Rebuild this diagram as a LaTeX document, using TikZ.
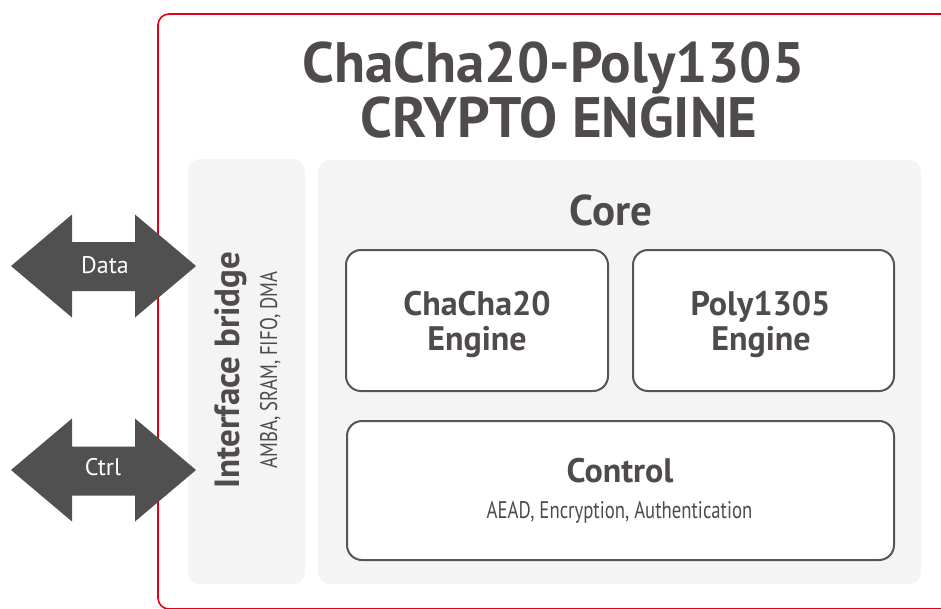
\documentclass[tikz,border=0pt]{standalone}
\usepackage{fontspec}
\setmainfont{PT Sans}
\newfontfamily\condfont[FakeStretch=0.78]{PT Sans}
\definecolor{txt}{HTML}{4E4B4A}
\definecolor{boxgray}{HTML}{F4F4F4}
\definecolor{edge}{HTML}{555555}
\definecolor{arrowfill}{HTML}{505050}
\definecolor{frame}{HTML}{E2001A}
\begin{document}
\begin{tikzpicture}[x=1pt,y=-1pt,
  panel/.style={fill=boxgray, rounded corners=12pt, inner sep=0pt},
  engine/.style={draw=edge, line width=2pt, fill=white, rounded corners=15pt, inner sep=0pt},
  lbl/.style={text=txt, inner sep=0pt, anchor=base},
  enginetxt/.style={lbl, font=\fontsize{34}{36}\bfseries\selectfont},
  arrowtxt/.style={text=white, inner sep=0pt, anchor=base, font=\fontsize{24}{28}\selectfont},
  bigarrow/.style={fill=arrowfill}]
\useasboundingbox (0,0) rectangle (941,608);
% outer frame
\draw[frame, line width=1.6pt, rounded corners=11pt] (158,14) rectangle (990,609);
% title
\node[lbl, font=\fontsize{57}{60}\bfseries\selectfont] (title1) at (553.5,82) {ChaCha20-Poly1305};
\node[lbl, font=\fontsize{57}{60}\bfseries\selectfont] (title2) at (559,137) {CRYPTO ENGINE};
% panels
\node[panel, minimum width=117pt, minimum height=425pt] (bridge) at (246.5,371.5) {};
\node[panel, minimum width=603pt, minimum height=424pt] (core) at (619.5,372) {};
% bridge labels
\node[lbl, rotate=90, font=\fontsize{35}{37}\bfseries\selectfont] (bridgetitle) at (239,370) {Interface bridge};
\node[lbl, rotate=90, font=\fontsize{24}{26}\condfont\selectfont] (bridgesub) at (277,370) {AMBA, SRAM, FIFO, DMA};
% core
\node[lbl, font=\fontsize{43}{46}\bfseries\selectfont] (coretitle) at (611,225) {Core};
\node[engine, minimum width=262pt, minimum height=141pt] (chacha) at (477,320.5) {};
\node[engine, minimum width=261pt, minimum height=141pt] (poly) at (763.5,320.5) {};
\node[engine, minimum width=547pt, minimum height=139pt] (control) at (620.5,490.5) {};
\node[enginetxt] (chacha1) at (477,315) {ChaCha20};
\node[enginetxt] (chacha2) at (477,350) {Engine};
\node[enginetxt] (poly1) at (760.5,315) {Poly1305};
\node[enginetxt] (poly2) at (761,350) {Engine};
\node[enginetxt] (ctrl1) at (620,482) {Control};
\node[lbl, font=\fontsize{24}{28}\condfont\selectfont] (ctrl2) at (619.5,518) {AEAD, Encryption, Authentication};
% external arrows
\fill[bigarrow] (11,266) -- (72,214.5) -- (72,242) -- (135,242) -- (135,214.5) -- (196,266)
  -- (135,317.5) -- (135,291) -- (72,291) -- (72,317.5) -- cycle;
\node[arrowtxt] (data) at (105,273) {Data};
\fill[bigarrow] (11,470) -- (72,418.5) -- (72,446.5) -- (135,446.5) -- (135,418.5) -- (196,470)
  -- (135,521.5) -- (135,495.5) -- (72,495.5) -- (72,521.5) -- cycle;
\node[arrowtxt] (ctrl) at (103,475) {Ctrl};
\end{tikzpicture}
\end{document}
